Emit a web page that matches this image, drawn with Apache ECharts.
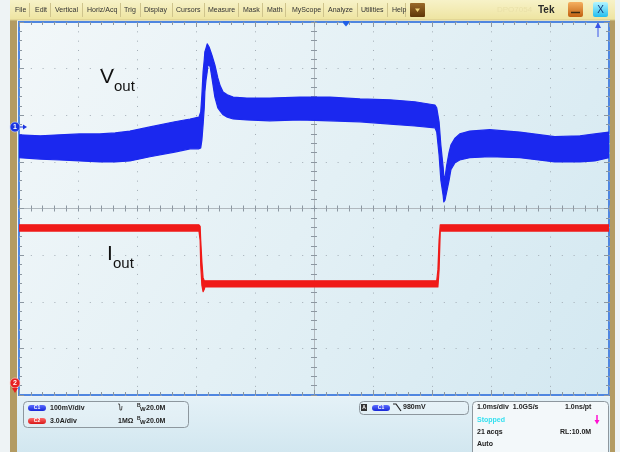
<!DOCTYPE html>
<html><head><meta charset="utf-8">
<script src="https://cdn.jsdelivr.net/npm/echarts@6/dist/echarts.min.js"></script>
<style>html,body{margin:0;padding:0;background:#eef3f5;}#c{width:620px;height:452px;}</style>
</head><body><div id="c"></div>
<script>
// ===== DATA =====
// Vout (CH1, 100 mV/div), time in ms (1 ms/div), envelope of the persistence band in mV relative to CH1 marker
const vTimes = [0,0.36,0.69,1.03,1.37,1.63,1.88,2.22,2.64,2.90,3.05,3.08,3.10,3.12,3.14,3.15,3.17,3.19,3.20,3.22,3.24,3.27,3.32,3.37,3.41,3.46,3.53,3.63,3.86,4.25,4.76,5.27,5.78,6.29,6.71,7.05,7.08,7.12,7.15,7.19,7.20,7.22,7.25,7.29,7.32,7.39,7.47,7.64,7.98,8.49,9.08,9.51,9.76,10.0];
const vUpper = [-17,-19,-17,-15,-15,-13,-9,0,11,17,21,32,69,118,144,161,169,178,176,172,165,154,133,105,88,75,69,64,62,62,64,64,60,58,54,47,41,11,-39,-88,-105,-109,-82,-54,-39,-24,-15,-9,-6,-11,-21,-19,-15,-11];
const vLower = [-66,-69,-71,-73,-75,-75,-73,-64,-54,-47,-47,-45,-28,4,41,75,101,118,131,133,129,105,64,41,34,26,21,17,15,13,15,13,11,6,2,-2,-11,-60,-114,-148,-161,-157,-139,-114,-92,-77,-71,-66,-64,-66,-75,-75,-73,-66];
// Iout (CH2, 3.0 A/div), envelope in A relative to CH2 marker
const iTimes = [0,3.05,3.07,3.08,3.10,3.12,3.14,3.15,7.08,7.10,7.12,7.14,10];
const iUpper = [10.2,10.2,10.1,9.2,7.8,6.8,6.6,6.6,6.6,7.3,9.2,10.2,10.2];
const iLower = [9.8,9.8,9.2,7.6,6.3,5.9,6.05,6.2,6.2,6.2,7.3,9.8,9.8];
// Labels
const menuItems = ['File','Edit','Vertical','Horiz/Acq','Trig','Display','Cursors','Measure','Mask','Math','MyScope','Analyze','Utilities','Help'];
const ch1Text = '100mV/div';
const ch2Text = '3.0A/div';
const impedanceText = '1M\u03A9';
const bwText = '20.0M';
const trigText = '980mV';
const timebaseText = ['1.0ms/div  1.0GS/s','1.0ns/pt','Stopped','21 acqs','RL:10.0M','Auto'];

// ===== LAYOUT =====
const menuX = [15,35,55,87,124,144,176,208,243,267,292,328,361,392];
const sepX = [29,50,82,120,140,172,204,238,262,285,323,357,387,405];
const FONT = 'Liberation Sans, Arial, sans-serif';
const BLUE = '#1b28ef', RED = '#f01a18';

const chart = echarts.init(document.getElementById('c'), null, {renderer:'canvas'});

// persistence band: polygon built from upper envelope then lower envelope (reversed), mapped through the axes
function band(name, times, lower, upper, yIdx, color){
  return {
    type:'custom', name:name, xAxisIndex:4, yAxisIndex:yIdx, clip:true, z:3, silent:true,
    data:[[times[0], lower[0]]],
    renderItem:function(params, api){
      const pts = [];
      for (let i=0;i<times.length;i++) pts.push(api.coord([times[i], upper[i]]));
      for (let i=times.length-1;i>=0;i--) pts.push(api.coord([times[i], lower[i]]));
      return {type:'polygon', shape:{points:pts}, style:{fill:color, stroke:color, lineWidth:1.2, lineJoin:'round'}};
    }
  };
}

const tickC = '#8c97a1', dotC = '#a3adb5', centerC = '#b0b8be';
function gratX(pos, extra){
  return Object.assign({type:'value', min:-5, max:5, interval:1, position:pos,
    axisLine:{show:false, onZero:false}, axisLabel:{show:false},
    axisTick:{show:true, inside:true, length:5, lineStyle:{color:tickC}},
    minorTick:{show:true, splitNumber:5, length:3, lineStyle:{color:tickC}},
    splitLine:{show:false}}, extra||{});
}
function gratY(pos, extra){
  return Object.assign({type:'value', min:-4, max:4, interval:1, position:pos,
    axisLine:{show:false, onZero:false}, axisLabel:{show:false},
    axisTick:{show:true, inside:true, length:5, lineStyle:{color:tickC}},
    minorTick:{show:true, splitNumber:5, length:3, lineStyle:{color:tickC}},
    splitLine:{show:false}}, extra||{});
}

function txt(x,y,text,o){
  o=o||{};
  return {type:'text', x:x, y:y, z:o.z||50, style:{text:text, fill:o.fill||'#222', fontSize:o.size||7,
    fontFamily:o.family||FONT, fontWeight:o.weight||'normal',
    align:o.align||'left', textAlign:o.align||'left', verticalAlign:'middle', textVerticalAlign:'middle'}};
}
function rect(x,y,w,h,fill,o){
  o=o||{};
  return {type:'rect', z:o.z||40, shape:{x:x,y:y,width:w,height:h,r:o.r||0},
    style:{fill:fill, stroke:o.stroke||null, lineWidth:o.lw||1}};
}
function vgrad(a,b){ return {type:'linear',x:0,y:0,x2:0,y2:1,colorStops:[{offset:0,color:a},{offset:1,color:b}]}; }
function pill(x,y,w,h,c1,c2,label){
  return [rect(x,y,w,h,vgrad(c1,c2),{r:h/2,z:45}), txt(x+w/2,y+h/2,label,{fill:'#fff',size:5,weight:'bold',align:'center',z:46})];
}

const g = [];
// bezel strips
g.push(rect(10,0,7,452,'#b39b62',{z:30}));
g.push(rect(610,0,5,452,'#b39b62',{z:30}));
// menu bar
g.push(rect(10,0,605,20,vgrad('#f7f2c8','#eee4a0'),{z:31}));
g.push({type:'line', z:32, shape:{x1:10,y1:20,x2:615,y2:20}, style:{stroke:'#d6c98a',lineWidth:1}});
menuItems.forEach((m,i)=>g.push(txt(menuX[i],10,m,{size:7,fill:'#333'})));
sepX.forEach(x=>g.push({type:'line', z:32, shape:{x1:x+0.5,y1:3,x2:x+0.5,y2:17}, style:{stroke:'#cfc48c',lineWidth:1}}));
g.push(rect(410,3,15,14,vgrad('#9a6a2a','#5e3608'),{z:33,r:1}));
g.push({type:'polygon', z:34, shape:{points:[[415,8.5],[420,8.5],[417.5,12]]}, style:{fill:'#f3d47a'}});
g.push(txt(497,10,'DPO7054',{size:8,fill:'#e9e0a8'}));
g.push(txt(538,10,'Tek',{size:10,weight:'bold',fill:'#2a2a2a'}));
g.push(rect(568,2,15,15,vgrad('#f5b060','#c2600f'),{z:33,r:2}));
g.push({type:'line', z:34, shape:{x1:571,y1:12.5,x2:580,y2:12.5}, style:{stroke:'#3a2a10',lineWidth:1.5}});
g.push(rect(593,2,15,15,vgrad('#b4f6ff','#22bdf0'),{z:33,r:2}));
g.push(txt(600.5,10,'X',{size:10,fill:'#123a7a',align:'center',z:34}));
// bottom panel
g.push(rect(17,397,593,55,vgrad('#e4f1f7','#d2e7f0'),{z:31}));
g.push(rect(23.5,401.5,165,26,'rgba(255,255,255,0.15)',{r:4,stroke:'#8d979e',z:35}));
g.push(...pill(28,405,18,6,'#5a6cff','#1726d8','C1'));
g.push(...pill(28,418,18,6,'#ff6a6a','#d81818','C2'));
g.push(txt(50,408,ch1Text,{weight:'bold'}));
g.push(txt(50,421,ch2Text,{weight:'bold'}));
g.push({type:'polyline', z:45, shape:{points:[[118,404],[119.5,404],[120,410],[121.5,410],[122,406]]}, style:{stroke:'#333',lineWidth:0.8,fill:null}});
g.push(txt(118,421,impedanceText,{weight:'bold'}));
[408,421].forEach(y=>{
  g.push(txt(137,y-2,'B',{size:5,weight:'bold'}));
  g.push(txt(140,y+1,'W',{size:6,weight:'bold'}));
  g.push(txt(146,y,bwText,{weight:'bold'}));
});
// trigger box
g.push(rect(359.5,401.5,109,13,'rgba(255,255,255,0.15)',{r:4,stroke:'#8d979e',z:35}));
g.push(rect(361,404,6,7,'#333',{z:45}));
g.push(txt(364,407.5,'A',{size:5,fill:'#fff',weight:'bold',align:'center',z:46}));
g.push(...pill(372,405,18,6,'#5a6cff','#1726d8','C1'));
g.push({type:'polyline', z:45, shape:{points:[[393,404],[396,404],[401,411]]}, style:{stroke:'#222',lineWidth:1.2,fill:null}});
g.push(txt(403,407.5,trigText,{weight:'bold'}));
// timebase box
g.push(rect(472.5,401.5,136,60,'#f3f8fa',{r:4,stroke:'#8d979e',z:35}));
g.push(txt(477,407.5,timebaseText[0],{weight:'bold'}));
g.push(txt(565,407.5,timebaseText[1],{weight:'bold'}));
g.push(txt(477,420.5,timebaseText[2],{weight:'bold',fill:'#34e0f0'}));
g.push({type:'line', z:45, shape:{x1:597,y1:415,x2:597,y2:421}, style:{stroke:'#ff10d0',lineWidth:1.5}});
g.push({type:'polygon', z:45, shape:{points:[[594.5,420],[599.5,420],[597,424.5]]}, style:{fill:'#ff10d0'}});
g.push(txt(477,432.5,timebaseText[3],{weight:'bold'}));
g.push(txt(560,432.5,timebaseText[4],{weight:'bold'}));
g.push(txt(477,444.5,timebaseText[5],{weight:'bold'}));
// waveform labels
g.push(txt(100,77.5,'V',{size:21,fill:'#111',z:60}));
g.push(txt(114,86.5,'out',{size:15,fill:'#111',z:60}));
g.push(txt(107,254.5,'I',{size:21,fill:'#111',z:60}));
g.push(txt(113,263.5,'out',{size:15,fill:'#111',z:60}));
// channel markers
g.push({type:'circle', z:70, shape:{cx:15,cy:127,r:5}, style:{fill:'#1b34e0',stroke:'#c9d3ff',lineWidth:0.6}});
g.push(txt(15,127.5,'1',{size:7,fill:'#fff',weight:'bold',align:'center',z:71}));
g.push({type:'line', z:70, shape:{x1:20,y1:127,x2:24,y2:127}, style:{stroke:'#1b34e0',lineWidth:1}});
g.push({type:'polygon', z:70, shape:{points:[[23,124.5],[27,127],[23,129.5]]}, style:{fill:'#1b34e0'}});
g.push({type:'circle', z:70, shape:{cx:15,cy:383,r:5}, style:{fill:'#e82020',stroke:'#ffd0d0',lineWidth:0.6}});
g.push(txt(15,383.5,'2',{size:7,fill:'#fff',weight:'bold',align:'center',z:71}));
g.push({type:'polygon', z:70, shape:{points:[[12,388],[18,388],[15,393]]}, style:{fill:'#e82020'}});
// trigger position & level markers
g.push({type:'polygon', z:70, shape:{points:[[343,21],[349,21],[349,23],[346,26.5],[343,23]]}, style:{fill:'#2060e8'}});
g.push({type:'line', z:70, shape:{x1:598,y1:37,x2:598,y2:26}, style:{stroke:'#3a55e8',lineWidth:1}});
g.push({type:'polygon', z:70, shape:{points:[[595,28],[601,28],[598,22]]}, style:{fill:'#3a55e8'}});

const option = {
  animation:false,
  grid:{left:19, top:22, width:590, height:373, show:true, borderColor:'#4f86e0', borderWidth:2,
        backgroundColor:{type:'linear',x:0,y:0,x2:1,y2:1,colorStops:[{offset:0,color:'#f2f7f9'},{offset:0.5,color:'#e3f0f5'},{offset:1,color:'#d3e8f1'}]},
        outerBoundsMode:'none', containLabel:false},
  xAxis:[
    gratX('bottom',{splitLine:{show:true,lineStyle:{color:dotC,type:[1,8.33],width:1}}}),
    gratX('top'),
    gratX('bottom',{axisLine:{show:true,onZero:true,onZeroAxisIndex:0,lineStyle:{color:centerC,width:1}},axisTick:{show:true,inside:true,length:3,lineStyle:{color:tickC}}}),
    gratX('bottom',{axisLine:{show:true,onZero:true,onZeroAxisIndex:0,lineStyle:{color:centerC,width:1}},axisTick:{show:true,inside:false,length:3,lineStyle:{color:tickC}}}),
    {type:'value', min:0, max:10, show:false, axisLine:{onZero:false}}
  ],
  yAxis:[
    gratY('left',{splitLine:{show:true,lineStyle:{color:dotC,type:[1,10.8],width:1}}}),
    gratY('right'),
    gratY('left',{axisLine:{show:true,onZero:true,onZeroAxisIndex:0,lineStyle:{color:centerC,width:1}},axisTick:{show:true,inside:true,length:3,lineStyle:{color:tickC}}}),
    gratY('left',{axisLine:{show:true,onZero:true,onZeroAxisIndex:0,lineStyle:{color:centerC,width:1}},axisTick:{show:true,inside:false,length:3,lineStyle:{color:tickC}}}),
    {type:'value', min:-575, max:225, show:false, axisLine:{onZero:false}},
    {type:'value', min:-0.75, max:23.25, show:false, axisLine:{onZero:false}}
  ],
  series:[
    band('Vout', vTimes, vLower, vUpper, 4, BLUE),
    band('Iout', iTimes, iLower, iUpper, 5, RED)
  ],
  graphic:{elements:g}
};
chart.setOption(option);
</script></body></html>
